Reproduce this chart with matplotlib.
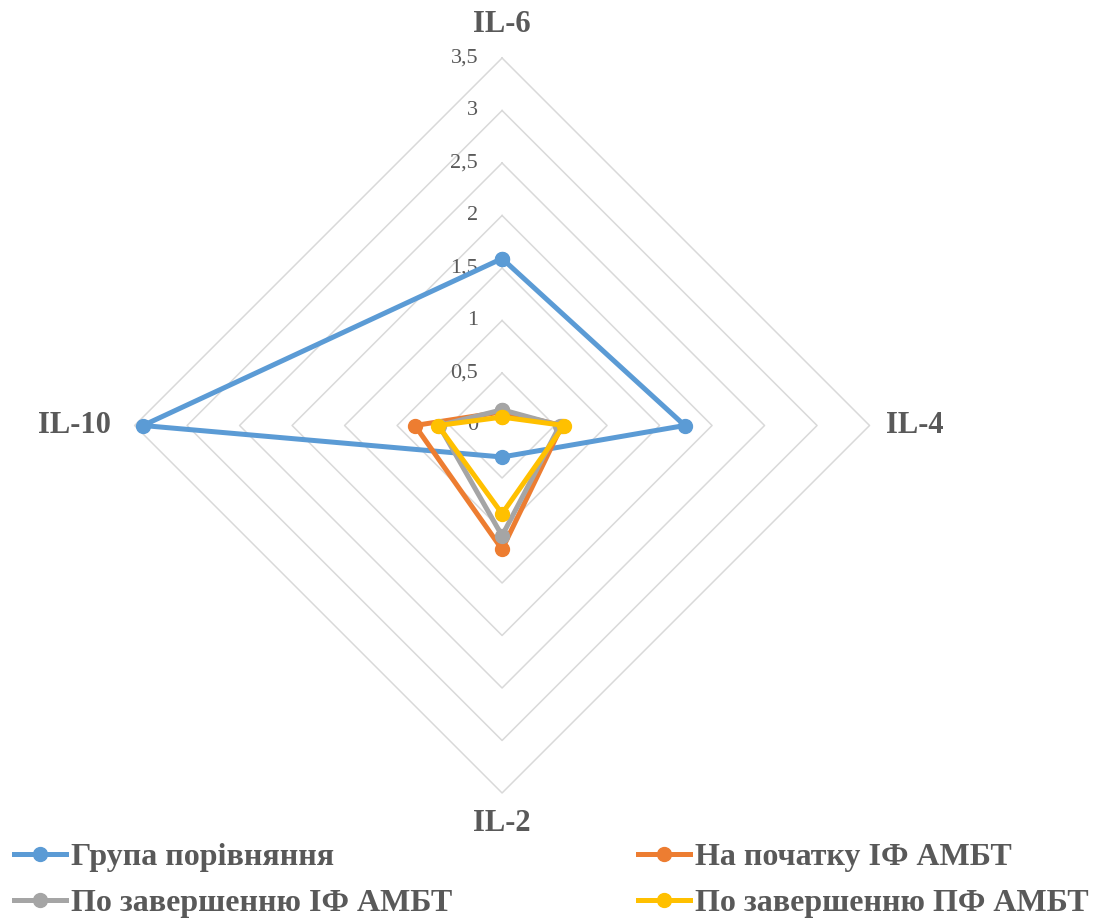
import numpy as np
import matplotlib
matplotlib.use("Agg")
from matplotlib import pyplot as plt

# Cytokine levels per group (radar chart)
categories = ["IL-6", "IL-4", "IL-2", "IL-10"]
series_names = ["Група порівняння", "На початку ІФ АМБТ",
                "По завершенню ІФ АМБТ", "По завершенню ПФ АМБТ"]
comparison = [1.59, 1.74, 0.30, 3.42]
start_if = [0.13, 0.57, 1.18, 0.83]
end_if = [0.15, 0.55, 1.05, 0.60]
end_pf = [0.08, 0.59, 0.84, 0.61]
ring_values = [0.5, 1.0, 1.5, 2.0, 2.5, 3.0, 3.5]
tick_values = [0, 0.5, 1, 1.5, 2, 2.5, 3, 3.5]

colors = ["#5B9BD5", "#ED7D31", "#A5A5A5", "#FFC000"]
text_color = "#595959"

plt.rcParams["font.family"] = ["Liberation Serif", "DejaVu Serif"]

fig = plt.figure(figsize=(10.93, 9.21), dpi=100)
ax = fig.add_axes([0.1231, 0.139, 0.6725, 0.798], projection="polar")
ax.set_theta_zero_location("N")
ax.set_theta_direction(-1)
ax.set_ylim(0, 3.5)
ax.grid(False)
ax.spines["polar"].set_visible(False)
ax.set_xticks([])
ax.set_yticks([])
ax.patch.set_visible(False)

theta = np.linspace(0, 2 * np.pi, len(categories), endpoint=False)
theta_closed = np.append(theta, theta[0])

# diamond-shaped grid rings
for r in ring_values:
    ax.plot(theta_closed, [r] * len(theta_closed), color="#D9D9D9",
            lw=1.1, clip_on=False, zorder=1)

# value labels along the top axis
for v in tick_values:
    ax.annotate(str(v).replace(".", ","), xy=(0, v), xytext=(-24, 0),
                textcoords="offset pixels", ha="right", va="center",
                fontsize=16, color=text_color, annotation_clip=False)

# category labels
label_offsets = [(0, 34, "center"), (16, 0, "left"), (0, -31, "center"), (-24, 0, "right")]
for th, name, (dx, dy, ha) in zip(theta, categories, label_offsets):
    ax.annotate(name, xy=(th, 3.5), xytext=(dx, dy), textcoords="offset pixels",
                ha=ha, va="center", fontsize=22, fontweight="bold",
                color=text_color, annotation_clip=False)

handles = []
for vals, c, name in zip([comparison, start_if, end_if, end_pf], colors, series_names):
    v = np.append(vals, vals[0])
    h, = ax.plot(theta_closed, v, color=c, lw=3.6, marker="o", markersize=10,
                 label=name, clip_on=False, zorder=3)
    handles.append(h)

order = [0, 2, 1, 3]
fig.legend([handles[i] for i in order], [series_names[i] for i in order],
           loc="lower left", bbox_to_anchor=(-0.005, -0.018), ncol=2, frameon=False,
           prop={"size": 23, "weight": "bold"}, labelcolor=text_color,
           handlelength=1.65, handletextpad=0.15, columnspacing=5.8,
           labelspacing=0.52, borderaxespad=0.2)

plt.savefig("out.png", dpi=100)
plt.close()
